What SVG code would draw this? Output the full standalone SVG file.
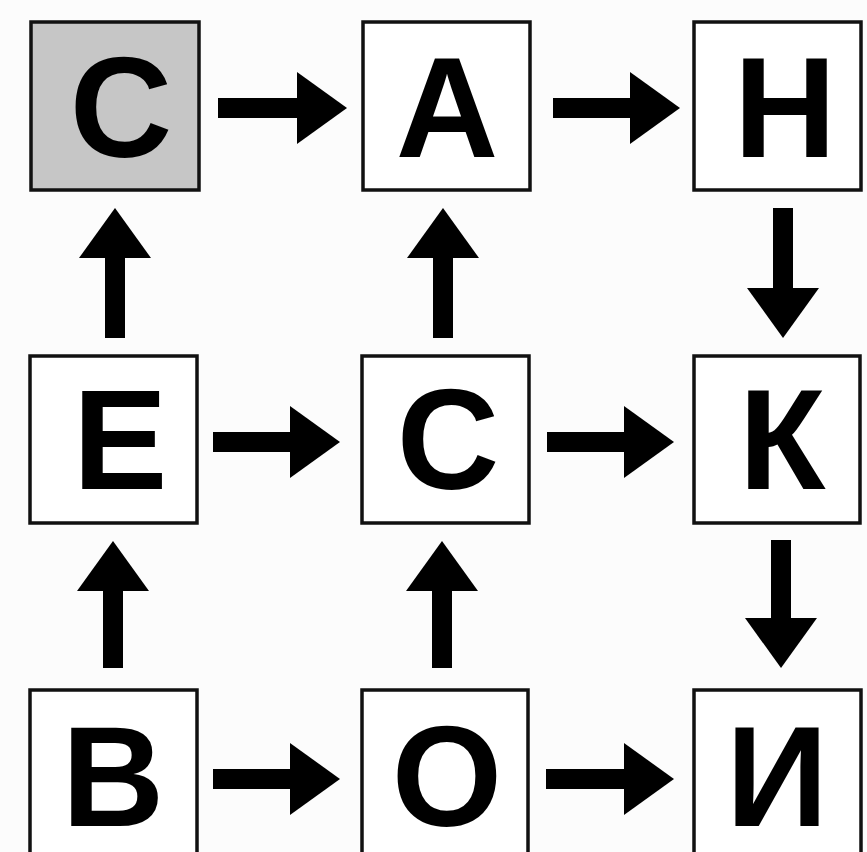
<svg xmlns="http://www.w3.org/2000/svg" width="867" height="852" viewBox="0 0 867 852">
<style>
.box{fill:#fff;stroke:#111;stroke-width:3.5}
.hl{fill:#c6c6c6}
.lbl{font-family:"Liberation Sans",Arial,sans-serif;font-weight:bold;font-size:142px;fill:#000;text-anchor:middle}
.arr{stroke:#000;stroke-width:20;fill:none;marker-end:url(#head)}
</style>
<defs>
<marker id="head" markerUnits="userSpaceOnUse" markerWidth="52" markerHeight="76" viewBox="-1 -37 52 74" refX="0" refY="0" orient="auto">
<path d="M0,-36 L50,0 L0,36 z" fill="#000"/>
</marker>
</defs>
<rect width="867" height="852" fill="#fcfcfc"/>
<g id="n-S1"><rect class="box hl" x="31" y="22" width="168" height="168"/><text class="lbl" x="121" y="157">С</text></g>
<g id="n-A"><rect class="box" x="363" y="22" width="167" height="168"/><text class="lbl" x="447" y="157">А</text></g>
<g id="n-N"><rect class="box" x="694" y="22" width="167" height="168"/><text class="lbl" x="785" y="157">Н</text></g>
<g id="n-E"><rect class="box" x="30" y="356" width="167" height="167"/><text class="lbl" x="120" y="489">Е</text></g>
<g id="n-S2"><rect class="box" x="362" y="356" width="167" height="167"/><text class="lbl" x="448" y="489">С</text></g>
<g id="n-K"><rect class="box" x="694" y="356" width="166" height="167"/><text class="lbl" x="782" y="489">К</text></g>
<g id="n-V"><rect class="box" x="30" y="690" width="167" height="170"/><text class="lbl" x="113" y="826">В</text></g>
<g id="n-O"><rect class="box" x="362" y="690" width="166" height="170"/><text class="lbl" x="447" y="826">О</text></g>
<g id="n-I"><rect class="box" x="694" y="690" width="167" height="170"/><text class="lbl" x="777" y="826">И</text></g>
<g id="connectors">
<line class="arr" x1="218" y1="108" x2="297" y2="108"/>
<line class="arr" x1="553" y1="108" x2="630" y2="108"/>
<line class="arr" x1="213" y1="442" x2="290" y2="442"/>
<line class="arr" x1="547" y1="442" x2="624" y2="442"/>
<line class="arr" x1="213" y1="779" x2="290" y2="779"/>
<line class="arr" x1="546" y1="779" x2="624" y2="779"/>
<line class="arr" x1="115" y1="338" x2="115" y2="258"/>
<line class="arr" x1="443" y1="338" x2="443" y2="258"/>
<line class="arr" x1="783" y1="208" x2="783" y2="288"/>
<line class="arr" x1="113" y1="668" x2="113" y2="591"/>
<line class="arr" x1="442" y1="668" x2="442" y2="591"/>
<line class="arr" x1="781" y1="540" x2="781" y2="618"/>
</g>
</svg>
